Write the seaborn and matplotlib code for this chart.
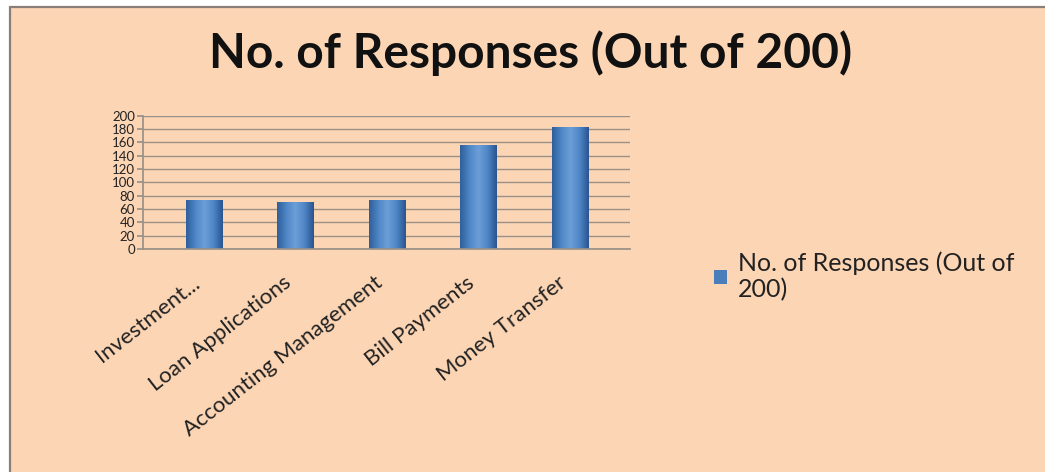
import matplotlib
matplotlib.use("Agg")
import matplotlib.pyplot as plt
import seaborn as sns
import pandas as pd
import numpy as np
from matplotlib.patches import Rectangle
from matplotlib.lines import Line2D
from matplotlib.colors import LinearSegmentedColormap
from matplotlib.transforms import ScaledTranslation

categories = ["Investment...", "Loan Applications", "Accounting Management",
              "Bill Payments", "Money Transfer"]
values = [74, 70, 73, 156, 183]
yticks = list(range(0, 201, 20))
title = "No. of Responses (Out of 200)"
series_label = "No. of Responses (Out of\n200)"

sns.set_theme(style="white")
plt.rcParams["font.family"] = ["Lato", "DejaVu Sans"]

bg = "#FCD5B4"
bar_color = "#4A7EBB"

fig = plt.figure(figsize=(10.45, 4.72), dpi=100, facecolor="white")

# chart area background with top/left border (as in the reference)
left_edge = 9.5 / 1045
top_edge = 1 - 7 / 472
fig.patches.append(Rectangle((left_edge, 0), 1 - left_edge, top_edge,
                             transform=fig.transFigure, facecolor=bg,
                             edgecolor="none", zorder=-10))
fig.lines.append(Line2D([left_edge, left_edge], [0, top_edge], transform=fig.transFigure,
                        color="#8A7F78", linewidth=1.6, zorder=-5))
fig.lines.append(Line2D([left_edge, 1], [top_edge, top_edge], transform=fig.transFigure,
                        color="#8A7F78", linewidth=1.6, zorder=-5))

ax = fig.add_axes([0.137, 0.4725, 0.466, 0.282])
ax.set_facecolor(bg)
ax.patch.set_alpha(0)

df = pd.DataFrame({"cat": categories, "val": values})
sns.barplot(data=df, x="cat", y="val", color=bar_color, width=0.4,
            saturation=1, ax=ax, edgecolor="none", linewidth=0,
            label=series_label)

# cylinder-like shading clipped to each bar
cmap = LinearSegmentedColormap.from_list(
    "cyl", ["#2F5F9A", "#4F86C6", "#6C9FD8", "#4F86C6", "#2A5590"])
grad = np.linspace(0, 1, 64).reshape(1, -1)
for p in list(ax.patches):
    x0, y0 = p.get_x(), p.get_y()
    w, h = p.get_width(), p.get_height()
    im = ax.imshow(grad, cmap=cmap, aspect="auto",
                   extent=(x0, x0 + w, y0, y0 + h), zorder=p.get_zorder() + 0.1)
    im.set_clip_path(p)

ax.set_ylim(0, 200)
ax.set_yticks(yticks)
ax.set_yticklabels([str(t) for t in yticks], fontsize=9.5, color="#222222")
ax.yaxis.grid(True, color="#999088", linewidth=1.0)
ax.set_axisbelow(True)
ax.set_xlabel("")
ax.set_ylabel("")
ax.tick_params(axis="y", length=4, color="#999088", pad=2, left=True)
ax.tick_params(axis="x", length=0, pad=17)
ax.set_xticks(range(len(categories)))
ax.set_xticklabels(categories, rotation=38, ha="right", rotation_mode="anchor",
                   fontsize=16, color="#222222")
shift = ScaledTranslation(-0.13, 0, fig.dpi_scale_trans)
for lab in ax.get_xticklabels():
    lab.set_transform(lab.get_transform() + shift)
for s in ["top", "right"]:
    ax.spines[s].set_visible(False)
for s in ["left", "bottom"]:
    ax.spines[s].set_color("#999088")
ax.set_xlim(-0.667, len(categories) - 0.345)

fig.suptitle(title, x=0.508, y=0.935, fontsize=34.5, fontweight="bold", color="#111111")

leg = ax.legend(loc="upper left", bbox_to_anchor=(0.662, 0.515),
                bbox_transform=fig.transFigure, frameon=False, fontsize=18,
                handlelength=0.5, handleheight=0.5, handletextpad=0.45,
                labelspacing=0.3)
for t in leg.get_texts():
    t.set_color("#222222")
    t.set_linespacing(1.15)
for h in leg.legend_handles:
    h.set_facecolor(bar_color)

fig.savefig("out.png", dpi=100, facecolor="white")
